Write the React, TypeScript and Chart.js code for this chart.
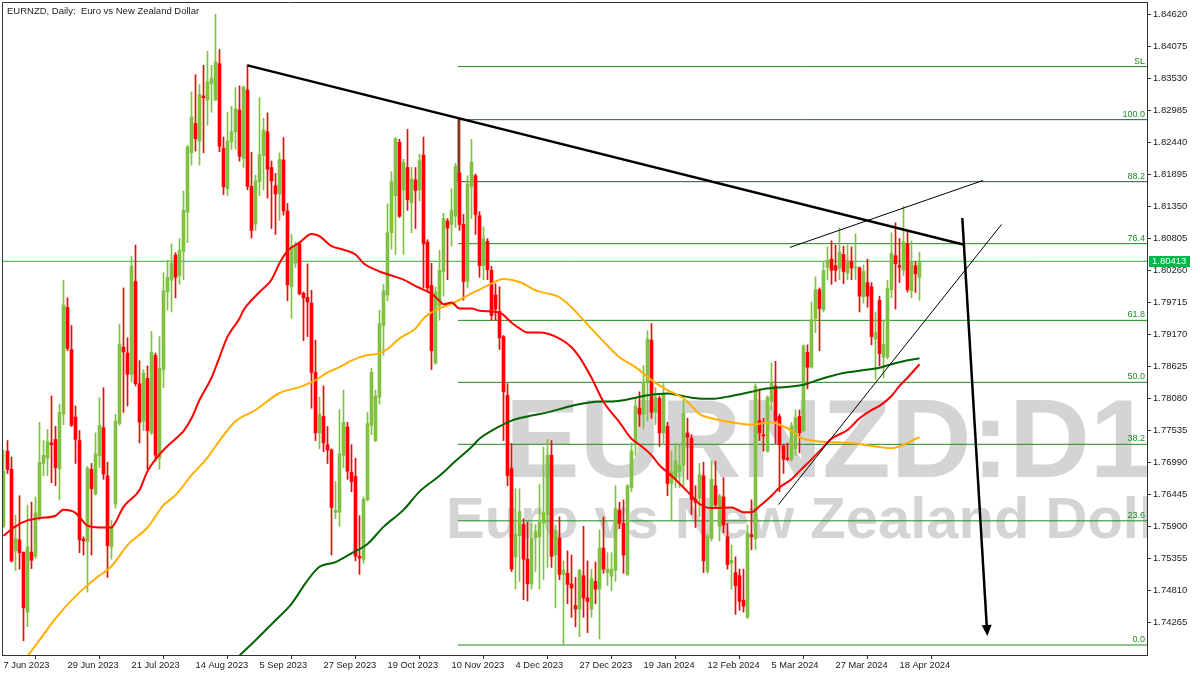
import React, { useEffect, useRef } from 'react';
import { Chart, registerables } from 'chart.js';

Chart.register(...registerables);

// ---------- DATA ----------
const CHART_TITLE = 'EURNZD, Daily:  Euro vs New Zealand Dollar';
const WATERMARK_SYMBOL = 'EURNZD:D1';
const WATERMARK_NAME = 'Euro vs New Zealand Dollar';

const xTickIdx = [0, 16, 32, 48, 64, 80, 96, 112, 128, 144, 160, 176, 192, 208, 224];
const xTickLabels = [
  '7 Jun 2023', '29 Jun 2023', '21 Jul 2023', '14 Aug 2023', '5 Sep 2023', '27 Sep 2023',
  '19 Oct 2023', '10 Nov 2023', '4 Dec 2023', '27 Dec 2023', '19 Jan 2024', '12 Feb 2024',
  '5 Mar 2024', '27 Mar 2024', '18 Apr 2024',
];
const yTickValues = [
  1.74265, 1.7481, 1.75355, 1.759, 1.76445, 1.7699, 1.77535, 1.7808, 1.78625, 1.7917,
  1.79715, 1.8026, 1.80805, 1.8135, 1.81895, 1.8244, 1.82985, 1.8353, 1.84075, 1.8462,
];

const opens = [
  1.7590, 1.7718, 1.7687, 1.7548, 1.7567, 1.7546, 1.7444, 1.7546, 1.7539, 1.7607,
  1.7697, 1.7706, 1.7732, 1.7738, 1.7688, 1.7781, 1.7963, 1.7891, 1.7776, 1.7736,
  1.7568, 1.7564, 1.7687, 1.7645, 1.7710, 1.7758, 1.7676, 1.7555, 1.7628, 1.7765,
  1.7895, 1.7885, 1.7849, 1.8007, 1.7833, 1.7769, 1.7842, 1.7749, 1.7881, 1.7706,
  1.7857, 1.7989, 1.8009, 1.8052, 1.8017, 1.8058, 1.8125, 1.8226, 1.8276, 1.8246,
  1.8323, 1.8316, 1.8344, 1.8316, 1.8378, 1.8234, 1.8165, 1.8245, 1.8262, 1.8299,
  1.8217, 1.8333, 1.8169, 1.8105, 1.8177, 1.8221, 1.8262, 1.8201, 1.8170, 1.8156,
  1.8214, 1.8127, 1.7998, 1.8038, 1.8071, 1.7987, 1.7980, 1.7970, 1.7852, 1.7749,
  1.7777, 1.7729, 1.7720, 1.7614, 1.7614, 1.7711, 1.7759, 1.7682, 1.7675, 1.7539,
  1.7534, 1.7635, 1.7762, 1.7736, 1.7810, 1.7932, 1.7984, 1.8090, 1.8153, 1.8244,
  1.8163, 1.8201, 1.8141, 1.8180, 1.8163, 1.8222, 1.8074, 1.8000, 1.7868, 1.7965,
  1.8024, 1.8110, 1.8104, 1.8118, 1.8192, 1.8104, 1.8007, 1.8168, 1.8187, 1.8119,
  1.8034, 1.8075, 1.8026, 1.7984, 1.7956, 1.7913, 1.7813, 1.7689, 1.7538, 1.7574,
  1.7593, 1.7534, 1.7492, 1.7570, 1.7572, 1.7595, 1.7610, 1.7711, 1.7541, 1.7570,
  1.7508, 1.7510, 1.7492, 1.7455, 1.7449, 1.7506, 1.7468, 1.7449, 1.7496, 1.7483,
  1.7553, 1.7511, 1.7505, 1.7515, 1.7617, 1.7595, 1.7508, 1.7656, 1.7732, 1.7791,
  1.7781, 1.7836, 1.7907, 1.7784, 1.7808, 1.7749, 1.7760, 1.7663, 1.7671, 1.7683,
  1.7694, 1.7749, 1.7740, 1.7636, 1.7638, 1.7676, 1.7513, 1.7569, 1.7659, 1.7590,
  1.7640, 1.7572, 1.7527, 1.7511, 1.7506, 1.7464, 1.7435, 1.7576, 1.7569, 1.7770,
  1.7746, 1.7718, 1.7802, 1.7829, 1.7777, 1.7727, 1.7706, 1.7704, 1.7722, 1.7777,
  1.7753, 1.7886, 1.7861, 1.7944, 1.7993, 1.7959, 1.8031, 1.8045, 1.8034, 1.8029,
  1.8053, 1.8021, 1.8041, 1.8030, 1.8030, 1.7981, 1.8005, 1.7998, 1.7909, 1.7975,
  1.7878, 1.7878, 1.7993, 1.8051, 1.8034, 1.8026, 1.8071, 1.7991, 1.8034, 1.8014,
];
const highs = [
  1.7720, 1.7736, 1.7708, 1.7609, 1.7642, 1.7546, 1.7626, 1.7631, 1.7640, 1.7767,
  1.7736, 1.7755, 1.7812, 1.7760, 1.7798, 1.8009, 1.7979, 1.7932, 1.7795, 1.7753,
  1.7572, 1.7692, 1.7697, 1.7749, 1.7809, 1.7826, 1.7699, 1.7600, 1.7781, 1.7934,
  1.7996, 1.7911, 1.8050, 1.8069, 1.7872, 1.7857, 1.7863, 1.7922, 1.7885, 1.7913,
  1.8022, 1.8043, 1.8071, 1.8056, 1.8080, 1.8161, 1.8239, 1.8330, 1.8359, 1.8342,
  1.8375, 1.8399, 1.8375, 1.8462, 1.8402, 1.8253, 1.8295, 1.8305, 1.8337, 1.8340,
  1.8340, 1.8376, 1.8227, 1.8188, 1.8320, 1.8285, 1.8294, 1.8212, 1.8191, 1.8226,
  1.8252, 1.8140, 1.8087, 1.8074, 1.8074, 1.7989, 1.8037, 1.7992, 1.7907, 1.7810,
  1.7829, 1.7760, 1.7722, 1.7666, 1.7789, 1.7822, 1.7767, 1.7729, 1.7706, 1.7608,
  1.7640, 1.7784, 1.7859, 1.7822, 1.7958, 1.8002, 1.8139, 1.8194, 1.8252, 1.8249,
  1.8215, 1.8266, 1.8201, 1.8201, 1.8224, 1.8253, 1.8078, 1.8038, 1.7998, 1.8060,
  1.8123, 1.8114, 1.8165, 1.8208, 1.8283, 1.8121, 1.8187, 1.8249, 1.8190, 1.8126,
  1.8100, 1.8080, 1.8033, 1.8003, 1.7998, 1.7915, 1.7833, 1.7731, 1.7654, 1.7654,
  1.7603, 1.7597, 1.7595, 1.7593, 1.7661, 1.7725, 1.7738, 1.7736, 1.7592, 1.7606,
  1.7531, 1.7548, 1.7541, 1.7503, 1.7517, 1.7590, 1.7531, 1.7517, 1.7529, 1.7584,
  1.7606, 1.7545, 1.7545, 1.7659, 1.7631, 1.7635, 1.7661, 1.7732, 1.7809, 1.7819,
  1.7864, 1.7923, 1.7935, 1.7826, 1.7812, 1.7833, 1.7767, 1.7718, 1.7732, 1.7729,
  1.7805, 1.7774, 1.7746, 1.7659, 1.7697, 1.7699, 1.7576, 1.7701, 1.7701, 1.7645,
  1.7673, 1.7595, 1.7558, 1.7538, 1.7517, 1.7517, 1.7592, 1.7635, 1.7833, 1.7824,
  1.7774, 1.7812, 1.7868, 1.7871, 1.7781, 1.7729, 1.7732, 1.7767, 1.7788, 1.7788,
  1.7899, 1.7899, 1.7972, 1.8015, 1.7996, 1.8041, 1.8066, 1.8076, 1.8069, 1.8098,
  1.8067, 1.8069, 1.8066, 1.8088, 1.8032, 1.8035, 1.8045, 1.8005, 1.7955, 1.7982,
  1.7941, 1.8009, 1.8090, 1.8107, 1.8080, 1.8135, 1.8094, 1.8076, 1.8041, 1.8057,
];
const lows = [
  1.7588, 1.7680, 1.7529, 1.7515, 1.7517, 1.7395, 1.7419, 1.7518, 1.7535, 1.7600,
  1.7676, 1.7676, 1.7664, 1.7659, 1.7635, 1.7763, 1.7889, 1.7760, 1.7697, 1.7545,
  1.7541, 1.7478, 1.7541, 1.7643, 1.7690, 1.7670, 1.7503, 1.7534, 1.7621, 1.7762,
  1.7784, 1.7795, 1.7836, 1.7829, 1.7732, 1.7753, 1.7687, 1.7746, 1.7701, 1.7687,
  1.7826, 1.7958, 1.7955, 1.7979, 1.8002, 1.8010, 1.8073, 1.8205, 1.8229, 1.8205,
  1.8226, 1.8273, 1.8295, 1.8315, 1.8228, 1.8155, 1.8153, 1.8232, 1.8232, 1.8212,
  1.8201, 1.8163, 1.8081, 1.8094, 1.8153, 1.8163, 1.8149, 1.8097, 1.8087, 1.8111,
  1.8120, 1.7974, 1.7944, 1.8031, 1.7984, 1.7906, 1.7913, 1.7791, 1.7736, 1.7722,
  1.7717, 1.7697, 1.7541, 1.7603, 1.7590, 1.7690, 1.7670, 1.7649, 1.7531, 1.7508,
  1.7527, 1.7633, 1.7746, 1.7734, 1.7798, 1.7881, 1.7974, 1.8062, 1.8053, 1.8116,
  1.8053, 1.8128, 1.8090, 1.8097, 1.8144, 1.7996, 1.7991, 1.7857, 1.7866, 1.7941,
  1.7982, 1.8010, 1.8067, 1.8099, 1.8094, 1.7975, 1.7996, 1.8114, 1.8087, 1.8014,
  1.8010, 1.8010, 1.7941, 1.7941, 1.7891, 1.7736, 1.7659, 1.7513, 1.7483, 1.7496,
  1.7465, 1.7463, 1.7483, 1.7513, 1.7483, 1.7499, 1.7520, 1.7520, 1.7451, 1.7499,
  1.7388, 1.7458, 1.7435, 1.7419, 1.7402, 1.7435, 1.7409, 1.7435, 1.7458, 1.7398,
  1.7510, 1.7489, 1.7480, 1.7496, 1.7586, 1.7510, 1.7506, 1.7649, 1.7711, 1.7760,
  1.7756, 1.7770, 1.7774, 1.7763, 1.7726, 1.7729, 1.7642, 1.7600, 1.7656, 1.7656,
  1.7656, 1.7670, 1.7610, 1.7588, 1.7607, 1.7511, 1.7510, 1.7565, 1.7621, 1.7565,
  1.7579, 1.7517, 1.7483, 1.7440, 1.7447, 1.7444, 1.7433, 1.7550, 1.7550, 1.7736,
  1.7718, 1.7716, 1.7788, 1.7731, 1.7649, 1.7680, 1.7702, 1.7701, 1.7711, 1.7715,
  1.7751, 1.7824, 1.7859, 1.7920, 1.7889, 1.7955, 1.8010, 1.8002, 1.8007, 1.8010,
  1.8003, 1.8010, 1.8010, 1.8010, 1.7955, 1.7970, 1.7963, 1.7899, 1.7840, 1.7863,
  1.7843, 1.7875, 1.7979, 1.7960, 1.8005, 1.8017, 1.7989, 1.7979, 1.7988, 1.7975,
];
const closes = [
  1.7684, 1.7687, 1.7531, 1.7569, 1.7545, 1.7451, 1.7555, 1.7532, 1.7613, 1.7699,
  1.7711, 1.7734, 1.7729, 1.7690, 1.7784, 1.7967, 1.7893, 1.7762, 1.7738, 1.7567,
  1.7565, 1.7689, 1.7654, 1.7713, 1.7762, 1.7679, 1.7557, 1.7590, 1.7769, 1.7900,
  1.7887, 1.7849, 1.8033, 1.7833, 1.7767, 1.7851, 1.7753, 1.7886, 1.7711, 1.7859,
  1.7991, 1.8014, 1.8038, 1.8014, 1.8060, 1.8128, 1.8236, 1.8287, 1.8250, 1.8325,
  1.8320, 1.8347, 1.8353, 1.8381, 1.8237, 1.8168, 1.8246, 1.8262, 1.8301, 1.8220,
  1.8338, 1.8169, 1.8094, 1.8178, 1.8223, 1.8265, 1.8198, 1.8178, 1.8156, 1.8215,
  1.8127, 1.8001, 1.8066, 1.8068, 1.7986, 1.7979, 1.7972, 1.7852, 1.7749, 1.7781,
  1.7732, 1.7720, 1.7622, 1.7617, 1.7713, 1.7767, 1.7684, 1.7666, 1.7539, 1.7536,
  1.7636, 1.7765, 1.7852, 1.7812, 1.7935, 1.7991, 1.8090, 1.8177, 1.8250, 1.8118,
  1.8210, 1.8146, 1.8182, 1.8162, 1.8213, 1.8071, 1.7996, 1.7889, 1.7989, 1.8026,
  1.8114, 1.8098, 1.8128, 1.8203, 1.8104, 1.8007, 1.8173, 1.8210, 1.8121, 1.8034,
  1.8080, 1.8027, 1.7949, 1.7960, 1.7911, 1.7819, 1.7676, 1.7517, 1.7576, 1.7615,
  1.7534, 1.7492, 1.7569, 1.7581, 1.7597, 1.7613, 1.7711, 1.7539, 1.7583, 1.7508,
  1.7515, 1.7491, 1.7485, 1.7449, 1.7515, 1.7468, 1.7462, 1.7501, 1.7483, 1.7553,
  1.7517, 1.7517, 1.7517, 1.7620, 1.7595, 1.7541, 1.7659, 1.7718, 1.7795, 1.7781,
  1.7836, 1.7909, 1.7784, 1.7810, 1.7749, 1.7815, 1.7663, 1.7683, 1.7701, 1.7694,
  1.7782, 1.7742, 1.7635, 1.7631, 1.7678, 1.7531, 1.7572, 1.7670, 1.7626, 1.7642,
  1.7592, 1.7525, 1.7532, 1.7489, 1.7462, 1.7454, 1.7579, 1.7572, 1.7829, 1.7749,
  1.7744, 1.7810, 1.7836, 1.7770, 1.7729, 1.7704, 1.7704, 1.7761, 1.7775, 1.7749,
  1.7897, 1.7861, 1.7942, 1.7993, 1.7961, 1.8026, 1.8043, 1.8026, 1.8026, 1.8057,
  1.8024, 1.8043, 1.8030, 1.8032, 1.7982, 1.8024, 1.7982, 1.7913, 1.7920, 1.7884,
  1.7900, 1.7995, 1.8055, 1.8037, 1.8031, 1.8074, 1.7993, 1.8041, 1.8020, 1.80413,
];

// moving averages: [bar index, price]
const maFast: number[][] = [
  [0, 1.7574], [3, 1.7590], [6, 1.7600], [9, 1.7604], [13, 1.7608], [15, 1.7618], [18, 1.7613],
  [19, 1.7606], [21, 1.7591], [24, 1.7588], [27, 1.7588], [28, 1.7597], [30, 1.7623], [34, 1.7652],
  [36, 1.7684], [38, 1.7704], [40, 1.7720], [44, 1.7745], [45, 1.7752], [47, 1.7774], [49, 1.7805],
  [52, 1.7843], [54, 1.7878], [56, 1.7913], [59, 1.7944], [60, 1.7958], [64, 1.7989], [67, 1.8010],
  [69, 1.8038], [71, 1.8059], [74, 1.8073], [77, 1.8088], [79, 1.8084], [82, 1.8067], [85, 1.8061],
  [88, 1.8053], [90, 1.8038], [94, 1.8024], [97, 1.8017], [100, 1.8010], [103, 1.7999], [105, 1.7993],
  [107, 1.7986], [109, 1.7974], [110, 1.7968], [112, 1.7971], [114, 1.7961], [117, 1.7961],
  [119, 1.7957], [124, 1.7954], [127, 1.7937], [129, 1.7927], [131, 1.7920], [134, 1.7920],
  [138, 1.7913], [142, 1.7895], [144, 1.7878], [147, 1.7843], [150, 1.7802], [154, 1.7767],
  [157, 1.7739], [159, 1.7729], [162, 1.7711], [164, 1.7694], [167, 1.7676], [169, 1.7663],
  [172, 1.7642], [174, 1.7628], [177, 1.7621], [182, 1.7622], [185, 1.7614], [187, 1.7614],
  [189, 1.7624], [192, 1.7642], [194, 1.7656], [197, 1.7670], [199, 1.7684], [202, 1.7704],
  [204, 1.7718], [207, 1.7739], [211, 1.7754], [214, 1.7774], [217, 1.7788], [219, 1.7795],
  [222, 1.7812], [224, 1.7829], [226, 1.7843], [229, 1.7866],
];
const maMid: number[][] = [
  [5, 1.7360], [9, 1.7396], [13, 1.7433], [18, 1.7471], [23, 1.7501], [27, 1.7522], [31, 1.7558],
  [36, 1.7588], [40, 1.7626], [43, 1.7643], [47, 1.7677], [51, 1.7707], [54, 1.7736], [58, 1.7769],
  [63, 1.7788], [69, 1.7817], [74, 1.7827], [78, 1.7839], [81, 1.7852], [84, 1.7861], [87, 1.7872],
  [90, 1.7880], [94, 1.7885], [96, 1.7892], [99, 1.7910], [103, 1.7927], [105, 1.7944], [108, 1.7958],
  [112, 1.7969], [116, 1.7983], [121, 1.8000], [125, 1.8011], [129, 1.8006], [133, 1.7992],
  [135, 1.7988], [139, 1.7980], [142, 1.7963], [145, 1.7941], [149, 1.7912], [154, 1.7878],
  [158, 1.7861], [162, 1.7839], [166, 1.7822], [170, 1.7808], [172, 1.7795], [174, 1.7781],
  [177, 1.7774], [182, 1.7767], [187, 1.7763], [192, 1.7767], [194, 1.7763], [197, 1.7753],
  [199, 1.7742], [202, 1.7736], [207, 1.7733], [212, 1.7732], [215, 1.7729], [219, 1.7725],
  [222, 1.7723], [224, 1.7726], [226, 1.7732], [229, 1.7742],
];
const maSlow: number[][] = [
  [59, 1.7370], [63, 1.7396], [68, 1.7430], [72, 1.7458], [76, 1.7498], [79, 1.7521], [83, 1.7529],
  [87, 1.7544], [91, 1.7560], [95, 1.7589], [100, 1.7618], [104, 1.7649], [109, 1.7676],
  [113, 1.7701], [117, 1.7725], [119, 1.7739], [124, 1.7760], [127, 1.7770], [131, 1.7777],
  [136, 1.7784], [142, 1.7795], [148, 1.7802], [153, 1.7803], [158, 1.7809], [161, 1.7813],
  [166, 1.7816], [169, 1.7813], [172, 1.7809], [177, 1.7807], [182, 1.7812], [187, 1.7819],
  [190, 1.7824], [197, 1.7828], [200, 1.7831], [204, 1.7840], [207, 1.7846], [210, 1.7851],
  [214, 1.7855], [219, 1.7860], [222, 1.7866], [225, 1.7871], [229, 1.7876],
];

// drawn objects: [bar index, price]
const trendDown: number[][] = [[61, 1.8375], [239.9, 1.8070]];
const trendUpper: number[][] = [[196.6, 1.8065], [244.9, 1.8179]];
const trendLower: number[][] = [[193.75, 1.7627], [249.5, 1.8104]];
const arrowPath: number[][] = [[239.7, 1.8115], [245.9, 1.7410]];

const fibStartIdx = 113.6;
const fibNames = ['0.0', '23.6', '38.2', '50.0', '61.8', '76.4', '88.2', '100.0', 'SL'];
const fibPrices = [1.73878, 1.75993, 1.77296, 1.78352, 1.79407, 1.80713, 1.81769, 1.82825, 1.83729];
const fibDark = [false, false, false, false, false, false, true, true, false];

const lastPrice = 1.80413;

// ---------- STYLE ----------
const X_MIN = -0.375;
const X_MAX = 285.875;
const Y_MIN = 1.73708;
const Y_MAX = 1.84829;
const BULL = '#80c141';
const BEAR = '#ff0000';
const FIB_GREEN = '#1f8a1f';
const FIB_DARK = '#2f4f4f';
const PRICE_GREEN = '#1db53f';
const FONT = '"Liberation Sans", Arial, sans-serif';

const pts = (arr: number[][]) => arr.map(([x, y]) => ({ x, y }));

export default function App() {
  const ref = useRef<HTMLCanvasElement | null>(null);

  useEffect(() => {
    document.body.style.margin = '0';
    const idx = opens.map((_, i) => i);
    const colors = idx.map((i) => (closes[i] >= opens[i] ? BULL : BEAR));

    const lineDs = (data: number[][], color: string, width: number, order: number, smooth = false) => ({
      type: 'line' as const,
      data: pts(data),
      borderColor: color,
      borderWidth: width,
      pointRadius: 0,
      fill: false,
      order,
      cubicInterpolationMode: smooth ? ('monotone' as const) : ('default' as const),
      tension: 0,
    });

    const datasets: any[] = [];
    datasets.push(lineDs(trendDown, '#000000', 2.5, 1));
    datasets.push(lineDs(trendUpper, '#000000', 1, 1));
    datasets.push(lineDs(trendLower, '#000000', 1, 1));
    datasets.push(lineDs(arrowPath, '#000000', 2.5, 1));
    datasets.push(lineDs(maFast, '#ff0000', 2, 2, true));
    datasets.push(lineDs(maMid, '#ffb000', 2, 2, true));
    datasets.push(lineDs(maSlow, '#006400', 2, 2, true));
    datasets.push({
      type: 'bar',
      data: idx.map((i) => ({ x: i, y: [opens[i], closes[i]] })),
      backgroundColor: colors,
      borderWidth: 0,
      barThickness: 3,
      minBarLength: 1,
      grouped: false,
      order: 3,
    });
    datasets.push({
      type: 'bar',
      data: idx.map((i) => ({ x: i, y: [lows[i], highs[i]] })),
      backgroundColor: colors,
      borderWidth: 0,
      barThickness: 1,
      minBarLength: 1,
      grouped: false,
      order: 4,
    });
    datasets.push(lineDs([[X_MIN, lastPrice], [X_MAX, lastPrice]], PRICE_GREEN, 1, 5));
    fibPrices.forEach((p, k) => {
      datasets.push(lineDs([[fibStartIdx, p], [X_MAX, p]], fibDark[k] ? FIB_DARK : FIB_GREEN, 1, 6));
    });
    datasets.push(lineDs([[fibStartIdx + 0.1, fibPrices[7]], [fibStartIdx + 0.1, fibPrices[6]]], FIB_DARK, 1, 6));

    const overlay = {
      id: 'mtOverlay',
      beforeDatasetsDraw(chart: any) {
        const { ctx, chartArea: a } = chart;
        ctx.save();
        ctx.beginPath();
        ctx.rect(a.left, a.top, a.right - a.left, a.bottom - a.top);
        ctx.clip();
        ctx.fillStyle = '#d4d4d4';
        ctx.textAlign = 'left';
        ctx.textBaseline = 'alphabetic';
        ctx.font = `bold 112px ${FONT}`;
        ctx.fillText(WATERMARK_SYMBOL, 505, 477);
        ctx.font = `bold 58px ${FONT}`;
        ctx.fillText(WATERMARK_NAME, 446, 538);
        ctx.restore();
      },
      afterDatasetsDraw(chart: any) {
        const { ctx, chartArea: a, scales } = chart;
        const ys = scales.y;
        const xs = scales.x;
        ctx.save();
        ctx.font = `9px ${FONT}`;
        ctx.fillStyle = FIB_GREEN;
        ctx.textAlign = 'right';
        ctx.textBaseline = 'alphabetic';
        fibPrices.forEach((p, k) => {
          ctx.fillText(fibNames[k], a.right - 2, ys.getPixelForValue(p) - 3);
        });
        const [p0, p1] = arrowPath;
        const x0 = xs.getPixelForValue(p0[0]);
        const y0 = ys.getPixelForValue(p0[1]);
        const x1 = xs.getPixelForValue(p1[0]);
        const y1 = ys.getPixelForValue(p1[1]);
        const len = Math.hypot(x1 - x0, y1 - y0);
        const ux = (x1 - x0) / len;
        const uy = (y1 - y0) / len;
        const tipX = x1 + ux * 4;
        const tipY = y1 + uy * 4;
        const bx = tipX - ux * 11;
        const by = tipY - uy * 11;
        ctx.fillStyle = '#000';
        ctx.beginPath();
        ctx.moveTo(tipX, tipY);
        ctx.lineTo(bx - uy * 5, by + ux * 5);
        ctx.lineTo(bx + uy * 5, by - ux * 5);
        ctx.closePath();
        ctx.fill();
        ctx.restore();
      },
      afterDraw(chart: any) {
        const { ctx, chartArea: a, scales } = chart;
        ctx.save();
        ctx.strokeStyle = '#333';
        ctx.lineWidth = 1;
        ctx.beginPath();
        ctx.moveTo(a.left + 0.5, a.bottom);
        ctx.lineTo(a.left + 0.5, a.top + 0.5);
        ctx.lineTo(a.right, a.top + 0.5);
        ctx.stroke();
        ctx.font = `9.5px ${FONT}`;
        ctx.fillStyle = '#222';
        ctx.textAlign = 'left';
        ctx.textBaseline = 'alphabetic';
        ctx.fillText(CHART_TITLE, 7, 13.5);
        const py = Math.round(scales.y.getPixelForValue(lastPrice));
        ctx.fillStyle = '#00b84a';
        ctx.fillRect(a.right + 2, py - 5, 41, 11);
        ctx.fillStyle = '#ffffff';
        ctx.textBaseline = 'middle';
        ctx.fillText(lastPrice.toFixed(5), a.right + 5, py + 0.5);
        ctx.restore();
      },
    };

    const chart = new Chart(ref.current as HTMLCanvasElement, {
      type: 'bar',
      data: { datasets },
      options: {
        responsive: false,
        animation: false,
        events: [],
        layout: { padding: { left: 2, top: 2, right: 0, bottom: 0 } },
        plugins: { legend: { display: false }, tooltip: { enabled: false }, title: { display: false } },
        scales: {
          x: {
            type: 'linear',
            min: X_MIN,
            max: X_MAX,
            offset: false,
            grid: { display: true, drawOnChartArea: false, drawTicks: true, tickLength: 4, color: '#333' },
            border: { display: true, color: '#333', width: 1 },
            afterBuildTicks: (s: any) => {
              s.ticks = xTickIdx.map((v) => ({ value: v }));
            },
            afterFit: (s: any) => {
              s.height = 20;
              s.paddingLeft = 0;
              s.paddingRight = 0;
              s.paddingTop = 0;
              s.paddingBottom = 0;
            },
            ticks: {
              autoSkip: false,
              maxRotation: 0,
              minRotation: 0,
              align: 'start',
              padding: 1,
              color: '#1a1a1a',
              font: { family: FONT, size: 9.3 },
              callback: (_v: any, i: number) => xTickLabels[i],
            },
          },
          y: {
            type: 'linear',
            position: 'right',
            min: Y_MIN,
            max: Y_MAX,
            grid: { display: true, drawOnChartArea: false, drawTicks: true, tickLength: 4, color: '#333' },
            border: { display: true, color: '#333', width: 1 },
            afterBuildTicks: (s: any) => {
              s.ticks = yTickValues.map((v) => ({ value: v }));
            },
            afterFit: (s: any) => {
              s.width = 53;
              s.paddingTop = 0;
              s.paddingBottom = 0;
              s.paddingLeft = 0;
              s.paddingRight = 0;
            },
            ticks: {
              autoSkip: false,
              padding: 2,
              color: '#1a1a1a',
              font: { family: FONT, size: 9.5 },
              callback: (v: any) => Number(v).toFixed(5),
            },
          },
        },
      },
      plugins: [overlay],
    } as any);

    return () => chart.destroy();
  }, []);

  return (
    <div style={{ position: 'absolute', left: 0, top: 0, width: 1200, height: 675, background: '#ffffff' }}>
      <canvas ref={ref} width={1200} height={675} style={{ display: 'block' }} />
    </div>
  );
}
